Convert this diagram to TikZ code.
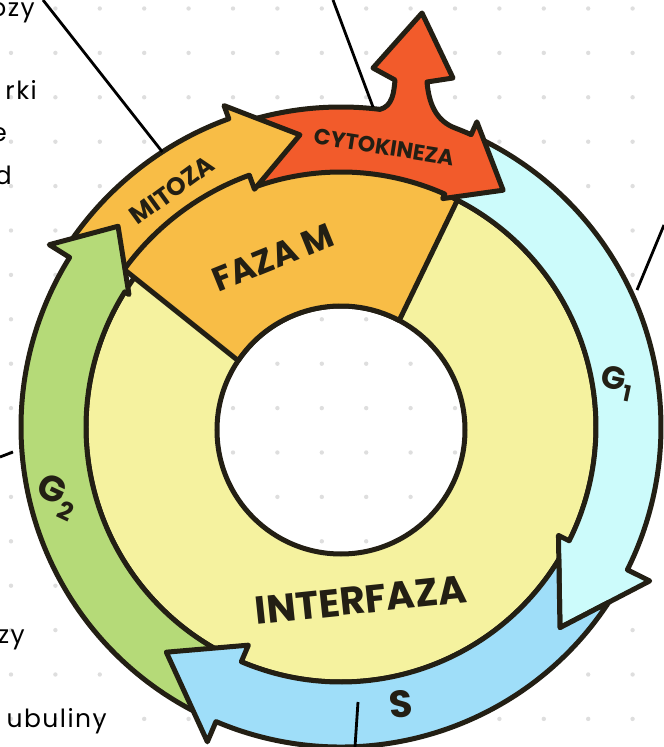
\documentclass[tikz,border=0pt]{standalone}
\usepackage{fontspec}
\setmainfont{Poppins}
\definecolor{ink}{HTML}{231F14}
\definecolor{dotgray}{HTML}{DEDEDE}
\definecolor{interyellow}{HTML}{F5F29F}
\definecolor{mphase}{HTML}{F8BD46}
\definecolor{cytored}{HTML}{F25B2B}
\definecolor{gonecyan}{HTML}{CCFBFB}
\definecolor{sblue}{HTML}{9FDEF9}
\definecolor{gtwogreen}{HTML}{B5DA78}

\begin{document}
\begin{tikzpicture}[x=1pt, y=1pt,
    ringpart/.style={draw=ink, line width=5pt, line join=round},
    phasetext/.style={text=ink, inner sep=0pt},
    sidetext/.style={text=black, inner sep=0pt, anchor=base east,
        font=\fontsize{25}{25}\selectfont\addfontfeature{LetterSpace=6}},
    leader/.style={draw=black, line width=2.8pt}]
    \useasboundingbox (-341,-320) rectangle (323,427);
    \clip (-341,-320) rectangle (323,427);
    % dotted paper
    \foreach \i in {0,...,14}
        \foreach \j in {0,...,16}
            \fill[dotgray] ({-330+44.4*\i},{418.5-44.4*\j}) circle (2.2);

    % interphase ring and M phase sector
    \path[ringpart, fill=interyellow, even odd rule] (0,0) circle (255) (0,-3) circle (124);
    \path[ringpart, fill=mphase] (-102.8,66.3) -- (143.8:290)
        arc[start angle=143.8, end angle=63, radius=290] -- (58.2,106.5)
        arc[start angle=62, end angle=146, radius=124] -- cycle;

    % G1
    \path[ringpart, fill=gonecyan] (64.5:320) arc[start angle=64.5, end angle=-26.5, radius=320]
        -- (-26.5:345) -- (-42.5:297) -- (-26.5:243) -- (-26.5:255)
        arc[start angle=-26.5, end angle=64.5, radius=255] -- cycle;
    % cytokineza
    \path[ringpart, fill=cytored] (109:320) arc[start angle=109, end angle=83, radius=320]
        to[out=15, in=-95] (54,347) -- (32,359) -- (81,414) -- (112,349) -- (86,345)
        to[out=-85, in=160] (69:320) arc[start angle=69, end angle=66, radius=320]
        -- (66:334) -- (55.6:287) -- (66:250) -- (66:255)
        arc[start angle=66, end angle=109, radius=255] -- cycle;
    % mitoza
    \path[ringpart, fill=mphase] (146:328) arc[start angle=146, end angle=110, radius=328]
        -- (110:342) -- (98:295) -- (110:253) -- (110:268)
        arc[start angle=110, end angle=146, radius=268] -- cycle;
    % G2
    \path[ringpart, fill=gtwogreen] (245:320) arc[start angle=245, end angle=148, radius=320]
        -- (148:344) -- (138:300) -- (148:250) -- (148:255)
        arc[start angle=148, end angle=245, radius=255] -- cycle;
    % S
    \path[ringpart, fill=sblue] (267.72,-175.29) -- (-42.5:297) -- (217.86,-132.41)
        arc[start angle=-31.29, end angle=-113, radius=255]
        -- (-113:237) -- (-127.8:285) -- (-113:342) -- (-113:320)
        arc[start angle=-113, end angle=-33.21, radius=320] -- cycle;

    % labels
    \node[phasetext, rotate=22, font=\bfseries\fontsize{34}{34}\selectfont] (fazam) at (-68,169) {FAZA M};
    \node[phasetext, rotate=6, font=\bfseries\fontsize{39}{39}\selectfont] (interfaza) at (20,-173) {INTERFAZA};
    \node[phasetext, rotate=36, font=\bfseries\fontsize{25}{25}\selectfont] (mitoza) at (-169,237) {MITOZA};
    \node[phasetext, rotate=-9, font=\bfseries\fontsize{22}{22}\selectfont] (cytokineza) at (43,280) {CYTOKINEZA};
    \node[phasetext, rotate=-12, font=\bfseries\fontsize{32}{32}\selectfont] (gone) at (276,44) {G\raisebox{-0.3em}{\fontsize{22}{22}\selectfont 1}};
    \node[phasetext, rotate=-25, font=\bfseries\fontsize{36}{36}\selectfont] (gtwo) at (-284,-70) {G\raisebox{-0.3em}{\fontsize{25}{25}\selectfont 2}};
    \node[phasetext, rotate=5, font=\bfseries\fontsize{38}{38}\selectfont] (sphase) at (60,-277) {S};

    % cut-off notes on the left
    \node[sidetext] (noteA) at (-306,410) {ozy};
    \node[sidetext] (noteB) at (-304,327) {rki};
    \node[sidetext] (noteC) at (-334,285) {e};
    \node[sidetext] (noteD) at (-329,242) {d};
    \node[sidetext] (noteE) at (-316,-216) {zy};
    \node[sidetext] (noteF) at (-234,-300) {ubuliny};

    % leader lines
    \coordinate (mitozaEnd) at (-298,427);
    \coordinate (mitozaPin) at (123:328);
    \coordinate (cytoEnd) at (-8,427);
    \coordinate (cytoPin) at (32,320);
    \coordinate (goneEnd) at (323,202);
    \coordinate (gonePin) at (296,137);
    \coordinate (gtwoEnd) at (-341,-30);
    \coordinate (gtwoPin) at (-328,-25);
    \coordinate (sEnd) at (14,-320);
    \coordinate (sPin) at (17,-275);
    \draw[leader] (mitozaEnd) -- (mitozaPin);
    \draw[leader] (cytoEnd) -- (cytoPin);
    \draw[leader] (goneEnd) -- (gonePin);
    \draw[leader] (gtwoEnd) -- (gtwoPin);
    \draw[leader] (sEnd) -- (sPin);
\end{tikzpicture}
\end{document}
